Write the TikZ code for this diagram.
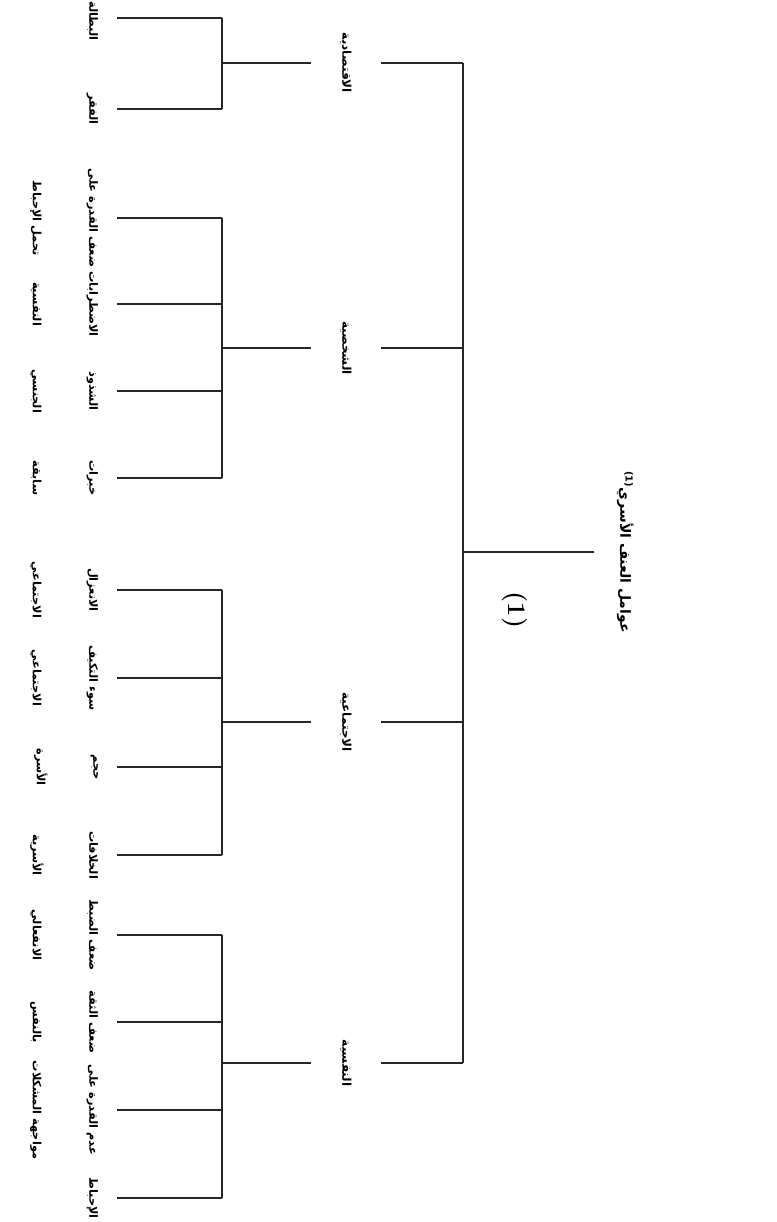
\documentclass[tikz,border=0pt]{standalone}
\usepackage{fontspec}
\newfontfamily\arabicfont[Script=Arabic]{DejaVu Sans}
\TeXXeTstate=1
\newcommand{\ar}[1]{\beginR #1\endR}
\begin{document}
\begin{tikzpicture}[x=0.75pt,y=-0.75pt,
  link/.style={line width=1.1pt,black!85},
  leaf/.style={rotate=-90,anchor=north,inner xsep=1pt,inner ysep=14pt,align=center,
    font=\arabicfont\bfseries\fontsize{8.5}{42.5}\selectfont},
  cat/.style={rotate=-90,inner sep=0pt,minimum height=52.5pt,
    font=\arabicfont\bfseries\fontsize{9}{11}\selectfont},
  rootnode/.style={rotate=-90,anchor=south,inner xsep=2pt,inner ysep=17pt,
    font=\arabicfont\bfseries\fontsize{10.5}{13}\selectfont},
  fignum/.style={rotate=-90,font=\bfseries\fontsize{19}{22}\selectfont}]
\useasboundingbox (0,0) rectangle (776,1222);

% root
\node[rootnode] (root) at (594,552) {\textsuperscript{(1)}\ar{عوامل العنف الأسري}};
\coordinate (trunk) at (463,552);
\node[fignum] (fig) at (515,610) {(1)};

% categories
\node[cat] (c1) at (346,63)   {\ar{الاقتصادية}};
\node[cat] (c2) at (346,348)  {\ar{الشخصية}};
\node[cat] (c3) at (346,722)  {\ar{الاجتماعية}};
\node[cat] (c4) at (346,1063) {\ar{النفسية}};

\coordinate (j1) at (222,63);
\coordinate (j2) at (222,348);
\coordinate (j3) at (222,722);
\coordinate (j4) at (222,1063);

% leaves of the first category (the top label sits a little below its stem)
\coordinate (s11) at (117,18);
\node[leaf] (l11) at (117,21)  {\ar{البطالة}};
\node[leaf] (l12) at (117,109) {\ar{الفقر}};

% leaves of the second category
\node[leaf] (l21) at (117,218) {\ar{ضعف القدرة على}\\\ar{تحمل الإحباط}};
\node[leaf] (l22) at (117,304) {\ar{الاضطرابات}\\\ar{النفسية}};
\node[leaf] (l23) at (117,391) {\ar{الشذوذ}\\\ar{الجنسي}};
\node[leaf] (l24) at (117,478) {\ar{خبرات}\\\ar{سابقة}};

% leaves of the third category
\node[leaf] (l31) at (117,590) {\ar{الانعزال}\\\ar{الاجتماعي}};
\node[leaf] (l32) at (117,678) {\ar{سوء التكيف}\\\ar{الاجتماعي}};
\node[leaf] (l33) at (117,767) {\ar{حجم}\\\ar{الأسرة}};
\node[leaf] (l34) at (117,855) {\ar{الخلافات}\\\ar{الأسرية}};

% leaves of the fourth category
\node[leaf] (l41) at (117,935)  {\ar{ضعف الضبط}\\\ar{الانفعالي}};
\node[leaf] (l42) at (117,1022) {\ar{ضعف الثقة}\\\ar{بالنفس}};
\node[leaf] (l43) at (117,1110) {\ar{عدم القدرة على}\\\ar{مواجهة المشكلات}};
\node[leaf] (l44) at (117,1198) {\ar{الإحباط}};

% trunk and root stem
\draw[link] (root.south) -- (trunk);
\draw[link] (c1.north -| trunk) -- (c4.north -| trunk);
\foreach \c in {c1,c2,c3,c4}
  \draw[link] (\c.north) -- (\c.north -| trunk);

% category stems
\draw[link] (c1.south) -- (j1);
\draw[link] (c2.south) -- (j2);
\draw[link] (c3.south) -- (j3);
\draw[link] (c4.south) -- (j4);

% sub-trunks
\draw[link] (s11 -| j1) -- (l12.north -| j1);
\draw[link] (l21.north -| j2) -- (l24.north -| j2);
\draw[link] (l31.north -| j3) -- (l34.north -| j3);
\draw[link] (l41.north -| j4) -- (l44.north -| j4);

% leaf stems
\draw[link] (s11) -- (s11 -| j1);
\foreach \l/\j in {l12/j1,l21/j2,l22/j2,l23/j2,l24/j2,
                   l31/j3,l32/j3,l33/j3,l34/j3,l41/j4,l42/j4,l43/j4,l44/j4}
  \draw[link] (\l.north) -- (\l.north -| \j);
\end{tikzpicture}
\end{document}
